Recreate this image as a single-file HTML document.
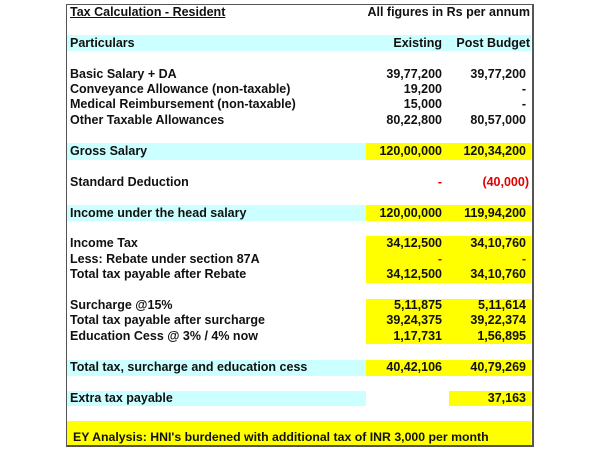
<!DOCTYPE html>
<html><head><style>
body{margin:0;width:600px;height:450px;background:#fff;position:relative;font-family:"Liberation Sans",Arial,sans-serif;font-weight:bold;font-size:12.5px;color:#111;overflow:hidden}
.box{position:absolute;left:66px;top:4px;width:465px;height:440px;border:1px solid #555;border-right:2px solid #555;border-bottom:2px solid #555}
.b{position:absolute}
.c{background:#ccffff}.y{background:#ffff00}
.t{position:absolute;white-space:nowrap;line-height:15px}
.l{left:70px}
.r1{right:158px;text-align:right}
.r2{right:74px;text-align:right}
.red{color:#e00000}
</style></head><body>
<div class="box"></div>
<div class="b c" style="left:67px;top:35px;width:464px;height:16px"></div>
<div class="b c" style="left:67px;top:143px;width:299px;height:17px"></div>
<div class="b y" style="left:366px;top:143px;width:165px;height:17px"></div>
<div class="b c" style="left:67px;top:205px;width:299px;height:16px"></div>
<div class="b y" style="left:366px;top:205px;width:165px;height:16px"></div>
<div class="b y" style="left:366px;top:236px;width:165px;height:47px"></div>
<div class="b y" style="left:366px;top:299px;width:165px;height:45px"></div>
<div class="b c" style="left:67px;top:360px;width:299px;height:16px"></div>
<div class="b y" style="left:366px;top:360px;width:165px;height:16px"></div>
<div class="b c" style="left:67px;top:391px;width:299px;height:15px"></div>
<div class="b y" style="left:449px;top:391px;width:82px;height:15px"></div>
<div class="b y" style="left:67px;top:421px;width:464px;height:24px"></div>

<div class="t l" style="top:5px;text-decoration:underline">Tax Calculation - Resident</div>
<div class="t" style="top:5px;right:70px">All figures in Rs per annum</div>
<div class="t l" style="top:36px">Particulars</div>
<div class="t r1" style="top:36px">Existing</div>
<div class="t" style="top:36px;right:70px">Post Budget</div>

<div class="t l" style="top:67px">Basic Salary + DA</div><div class="t r1" style="top:67px">39,77,200</div><div class="t r2" style="top:67px">39,77,200</div>
<div class="t l" style="top:82px">Conveyance Allowance (non-taxable)</div><div class="t r1" style="top:82px">19,200</div><div class="t r2" style="top:82px">-</div>
<div class="t l" style="top:97px">Medical Reimbursement (non-taxable)</div><div class="t r1" style="top:97px">15,000</div><div class="t r2" style="top:97px">-</div>
<div class="t l" style="top:113px">Other Taxable Allowances</div><div class="t r1" style="top:113px">80,22,800</div><div class="t r2" style="top:113px">80,57,000</div>

<div class="t l" style="top:144px">Gross Salary</div><div class="t r1" style="top:144px">120,00,000</div><div class="t r2" style="top:144px">120,34,200</div>
<div class="t l" style="top:175px">Standard Deduction</div><div class="t r1 red" style="top:175px">-</div><div class="t red" style="top:175px;right:71px">(40,000)</div>
<div class="t l" style="top:206px">Income under the head salary</div><div class="t r1" style="top:206px">120,00,000</div><div class="t r2" style="top:206px">119,94,200</div>

<div class="t l" style="top:236px">Income Tax</div><div class="t r1" style="top:236px">34,12,500</div><div class="t r2" style="top:236px">34,10,760</div>
<div class="t l" style="top:252px">Less: Rebate under section 87A</div><div class="t r1 red" style="top:252px">-</div><div class="t r2 red" style="top:252px">-</div>
<div class="t l" style="top:267px">Total tax payable after Rebate</div><div class="t r1" style="top:267px">34,12,500</div><div class="t r2" style="top:267px">34,10,760</div>

<div class="t l" style="top:298px">Surcharge @15%</div><div class="t r1" style="top:298px">5,11,875</div><div class="t r2" style="top:298px">5,11,614</div>
<div class="t l" style="top:313px">Total tax payable after surcharge</div><div class="t r1" style="top:313px">39,24,375</div><div class="t r2" style="top:313px">39,22,374</div>
<div class="t l" style="top:329px">Education Cess @ 3% / 4% now</div><div class="t r1" style="top:329px">1,17,731</div><div class="t r2" style="top:329px">1,56,895</div>

<div class="t l" style="top:360px">Total tax, surcharge and education cess</div><div class="t r1" style="top:360px">40,42,106</div><div class="t r2" style="top:360px">40,79,269</div>
<div class="t l" style="top:391px">Extra tax payable</div><div class="t r2" style="top:391px">37,163</div>
<div class="t" style="top:430px;left:73px;font-size:12.3px">EY Analysis: HNI's burdened with additional tax of INR 3,000 per month</div>
</body></html>
